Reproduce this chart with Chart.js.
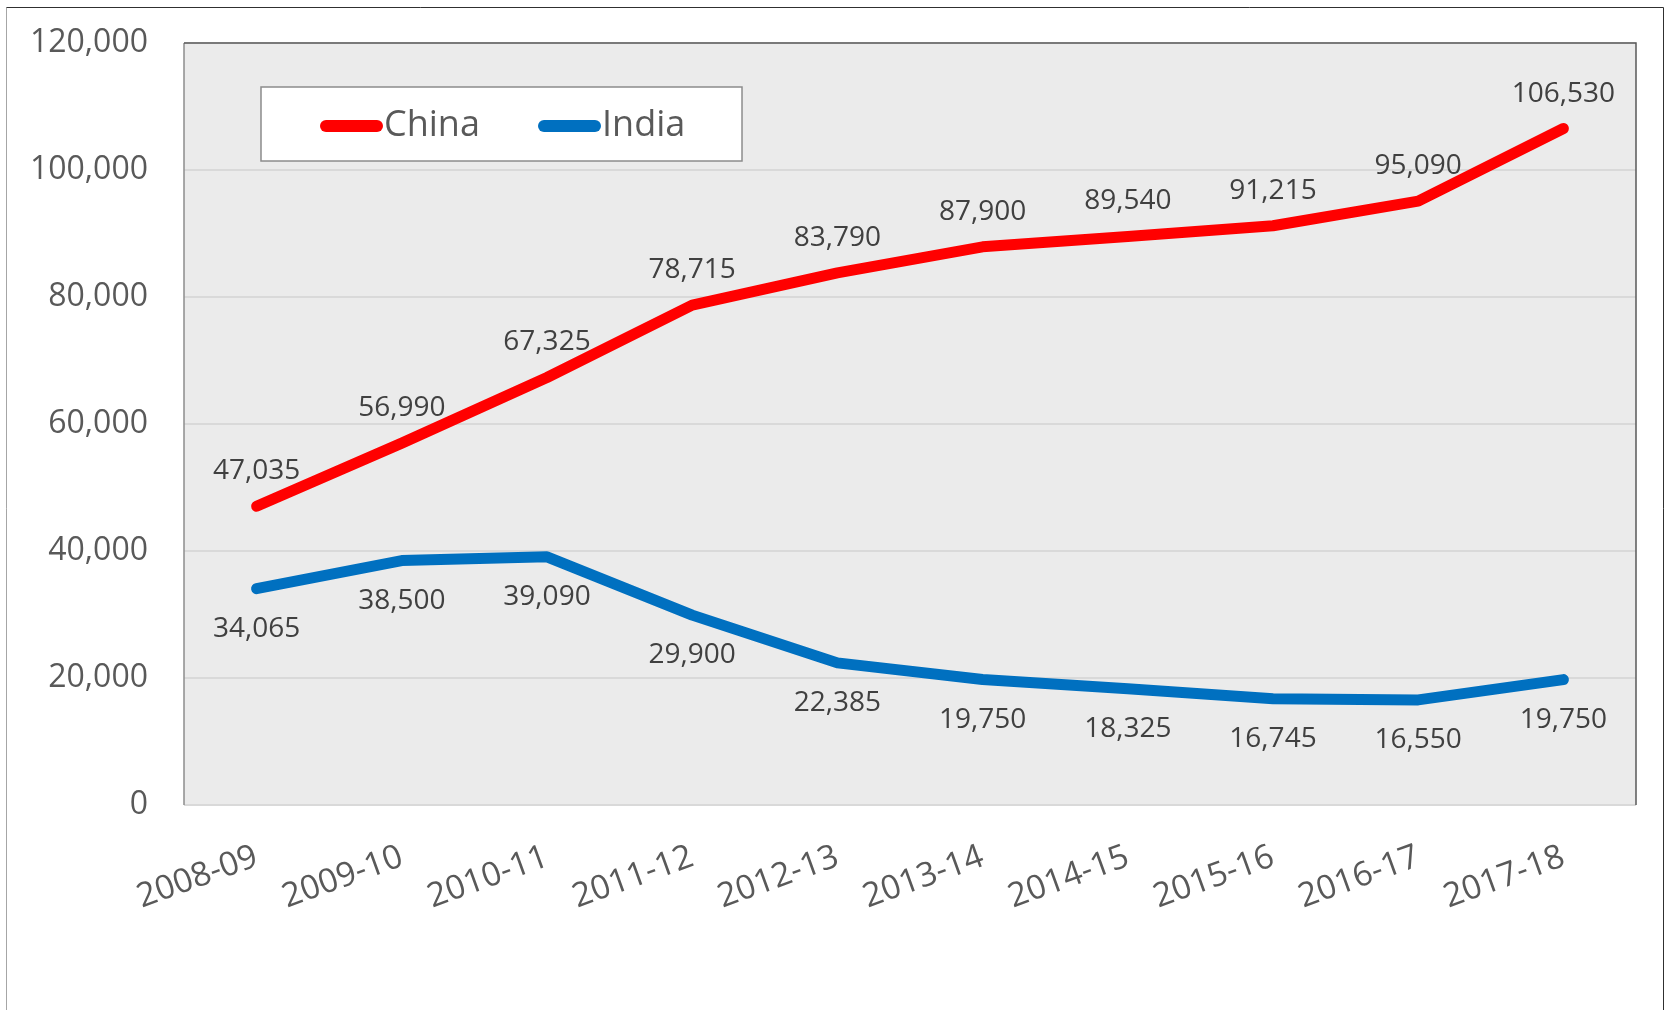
<!DOCTYPE html>
<html>
<head>
<meta charset="utf-8">
<title>China vs India</title>
<script src="https://cdn.jsdelivr.net/npm/chart.js@4.4.1/dist/chart.umd.min.js"></script>
<style>
    html, body { margin: 0; padding: 0; background: #ffffff; }
    #chart-wrap { width: 1667px; height: 1010px; }
</style>
</head>
<body>
<div id="chart-wrap">
    <canvas id="tradeChart" width="1667" height="1010"></canvas>
</div>
<script>
const years = ['2008-09', '2009-10', '2010-11', '2011-12', '2012-13', '2013-14', '2014-15', '2015-16', '2016-17', '2017-18'];
const chinaValues = [47035, 56990, 67325, 78715, 83790, 87900, 89540, 91215, 95090, 106530];
const indiaValues = [34065, 38500, 39090, 29900, 22385, 19750, 18325, 16745, 16550, 19750];
const seriesNames = ['China', 'India'];
const seriesColors = ['#ff0000', '#0070c0'];

const FONT = "'Open Sans', 'DejaVu Sans', sans-serif";

document.addEventListener('DOMContentLoaded', function() {

    const ctx = document.getElementById('tradeChart').getContext('2d');

    function formatNumber(num) {
        return num.toString().replace(/\B(?=(\d{3})+(?!\d))/g, ",");
    }

    // white page, grey plot area
    const backgroundPlugin = {
        id: 'background',
        beforeDraw(chart) {
            const c = chart.ctx;
            const a = chart.chartArea;
            c.save();
            c.fillStyle = '#ffffff';
            c.fillRect(0, 0, chart.width, chart.height);
            c.fillStyle = '#ebebeb';
            c.fillRect(a.left, a.top, a.right - a.left, a.bottom - a.top);
            c.restore();
        }
    };

    // value labels above (China) or below (India) each point
    const valueLabelPlugin = {
        id: 'valueLabels',
        afterDatasetsDraw(chart) {
            const c = chart.ctx;
            c.save();
            c.font = '28px ' + FONT;
            c.fillStyle = '#404040';
            c.textAlign = 'center';
            c.textBaseline = 'alphabetic';
            chart.data.datasets.forEach((ds, i) => {
                const meta = chart.getDatasetMeta(i);
                meta.data.forEach((pt, j) => {
                    const cy = ds.labelAbove ? pt.y - 37 : pt.y + 38;
                    c.fillText(formatNumber(ds.data[j]), pt.x, cy + 10);
                });
            });
            c.restore();
        }
    };

    // frame lines and the boxed legend inside the plot
    const framePlugin = {
        id: 'frame',
        afterDraw(chart) {
            const c = chart.ctx;
            const a = chart.chartArea;
            c.save();

            // outer chart border
            c.lineWidth = 1;
            c.strokeStyle = '#a6a6a6';
            c.beginPath();
            c.moveTo(6.5, 7.5);
            c.lineTo(6.5, chart.height);
            c.stroke();
            c.strokeStyle = '#303030';
            c.beginPath();
            c.moveTo(6.5, 7.5);
            c.lineTo(1663.5, 7.5);
            c.lineTo(1663.5, chart.height);
            c.stroke();

            // plot area border
            c.strokeStyle = '#8c8c8c';
            c.lineWidth = 1.5;
            c.beginPath();
            c.moveTo(a.left, a.bottom);
            c.lineTo(a.left, a.top);
            c.stroke();
            c.strokeStyle = '#595959';
            c.beginPath();
            c.moveTo(a.left, a.top);
            c.lineTo(a.right, a.top);
            c.lineTo(a.right, a.bottom);
            c.stroke();

            // legend
            c.fillStyle = '#ffffff';
            c.fillRect(261, 87, 481, 74);
            c.strokeStyle = '#8c8c8c';
            c.lineWidth = 1.5;
            c.strokeRect(261, 87, 481, 74);

            const entryX = [320, 538];
            c.font = '36px ' + FONT;
            c.textBaseline = 'middle';
            c.textAlign = 'left';
            chart.data.datasets.forEach((ds, i) => {
                const x = entryX[i];
                c.strokeStyle = ds.borderColor;
                c.lineWidth = 12;
                c.lineCap = 'round';
                c.beginPath();
                c.moveTo(x + 6, 126);
                c.lineTo(x + 57, 126);
                c.stroke();
                c.fillStyle = '#595959';
                c.fillText(ds.label, x + 64, 126);
            });

            c.restore();
        }
    };

    const datasets = [chinaValues, indiaValues].map((values, i) => ({
        label: seriesNames[i],
        data: values,
        borderColor: seriesColors[i],
        backgroundColor: seriesColors[i],
        borderWidth: 11,
        borderCapStyle: 'round',
        borderJoinStyle: 'round',
        pointRadius: 0,
        pointHoverRadius: 0,
        tension: 0,
        fill: false,
        labelAbove: i === 0
    }));

    new Chart(ctx, {
        type: 'line',
        data: {
            labels: years,
            datasets: datasets
        },
        options: {
            responsive: false,
            animation: false,
            layout: {
                padding: { top: 43, right: 31, bottom: 0, left: 0 }
            },
            plugins: {
                legend: { display: false },
                tooltip: { enabled: false }
            },
            scales: {
                x: {
                    offset: true,
                    grid: { display: false, drawTicks: false },
                    border: { display: false },
                    ticks: {
                        font: { family: FONT, size: 33.5 },
                        color: '#595959',
                        minRotation: 20,
                        maxRotation: 20,
                        padding: 32
                    },
                    afterFit(scale) {
                        scale.height = 205;
                    }
                },
                y: {
                    min: 0,
                    max: 120000,
                    grid: {
                        color: '#d9d9d9',
                        lineWidth: 2,
                        drawTicks: false
                    },
                    border: { display: false },
                    ticks: {
                        stepSize: 20000,
                        font: { family: FONT, size: 32 },
                        color: '#595959',
                        padding: 36,
                        callback: value => formatNumber(value)
                    },
                    afterFit(scale) {
                        scale.width = 184;
                        // tick padding would otherwise push the plot top down
                        scale.paddingTop = 19;
                        scale.paddingBottom = 19;
                    }
                }
            }
        },
        plugins: [backgroundPlugin, valueLabelPlugin, framePlugin]
    });
});
</script>
</body>
</html>
